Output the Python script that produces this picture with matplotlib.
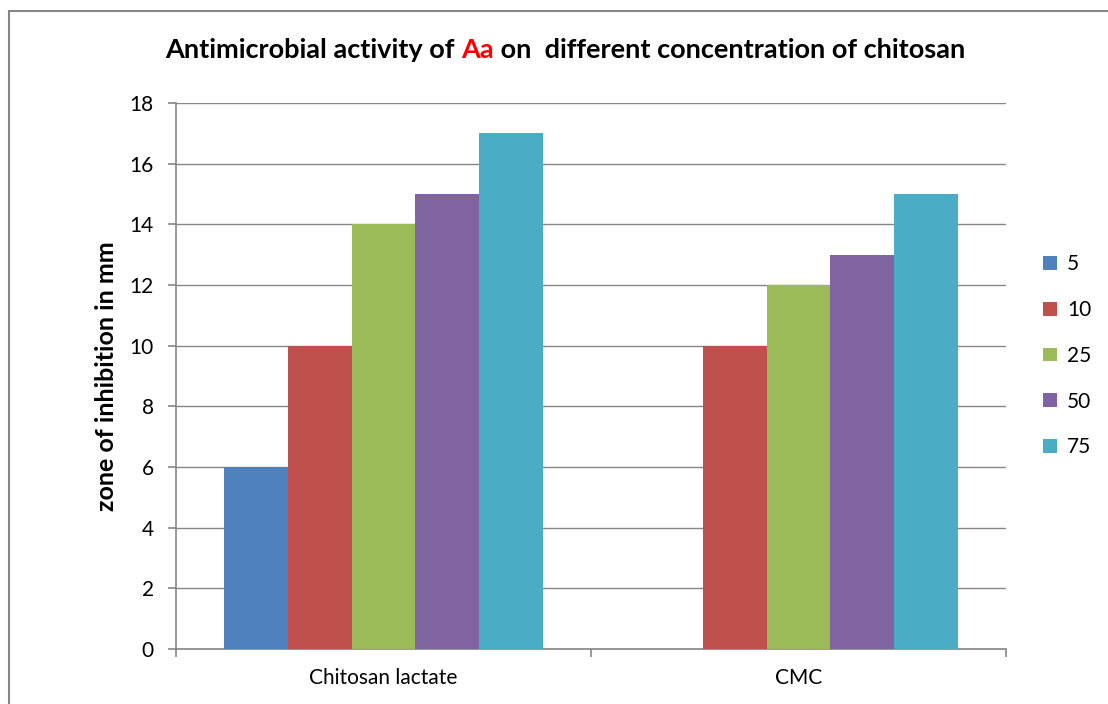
import matplotlib.pyplot as plt
import numpy as np
from matplotlib.patches import Rectangle

# data
categories = ['Chitosan lactate', 'CMC']
series = ['5', '10', '25', '50', '75']
values = {
    '5': [6, 0],
    '10': [10, 10],
    '25': [14, 12],
    '50': [15, 13],
    '75': [17, 15],
}
colors = ['#4F81BD', '#C0504D', '#9BBB59', '#8064A2', '#4BACC6']

plt.rcParams['font.family'] = ['Lato', 'DejaVu Sans']

fig = plt.figure(figsize=(11.08, 7.04), dpi=100)
ax = fig.add_axes([176/1108, 55/704, 830/1108, 546/704])

# bar layout like excel, gap width 150%
n = len(series)
w = 1.0 / (n + 1.5)
x = np.arange(len(categories))
for i, s in enumerate(series):
    ax.bar(x - 0.5 + 0.75 * w + (i + 0.5) * w, values[s], width=w,
           color=colors[i], label=s, zorder=3)

ax.set_xlim(-0.5, len(categories) - 0.5)
ax.set_ylim(0, 18)
ax.set_yticks(range(0, 19, 2))
ax.grid(axis='y', color='#868686', lw=1, zorder=0)

ax.set_xticks([-0.5, 0.5, 1.5])
ax.set_xticklabels([])
ax.set_xticks(x, minor=True)
ax.set_xticklabels(categories, minor=True, fontsize=15)
ax.tick_params(axis='x', which='minor', length=0, pad=14)
ax.tick_params(axis='x', which='major', length=6, color='#868686', width=1.2)
ax.tick_params(axis='y', length=6, color='#868686', width=1.2, labelsize=15, pad=10)

for sp in ['top', 'right']:
    ax.spines[sp].set_visible(False)
for sp in ['left', 'bottom']:
    ax.spines[sp].set_color('#868686')
    ax.spines[sp].set_linewidth(1.2)

ax.set_ylabel('zone of inhibition in mm', fontsize=18, fontweight='bold')
ax.yaxis.set_label_coords(-58/830, 0.5)

ax.legend(loc='center left', bbox_to_anchor=(1.022, 0.537), frameon=False,
          fontsize=15, handlelength=0.65, handleheight=0.65, labelspacing=1.24,
          handletextpad=0.5)

# title with red "Aa"
parts = [('Antimicrobial activity of ', 'black'), ('Aa', '#FF0000'),
         (' on  different concentration of chitosan', 'black')]
fig.canvas.draw()
r = fig.canvas.get_renderer()
texts = []
total = 0
for p, c in parts:
    t = fig.text(0, 1 - 50/704, p, color=c, fontsize=19.5, fontweight='bold',
                 va='center', ha='left')
    texts.append(t)
    total += t.get_window_extent(r).width
xpos = 565 - total / 2
for t in texts:
    t.set_x(xpos / 1108)
    xpos += t.get_window_extent(r).width

# chart border
fig.patches.append(Rectangle((9/1108, -0.1), 2, 1 - 11/704 + 0.1, transform=fig.transFigure,
                             fill=False, edgecolor='#868686', lw=1.5))

fig.savefig('out.png', dpi=100)
